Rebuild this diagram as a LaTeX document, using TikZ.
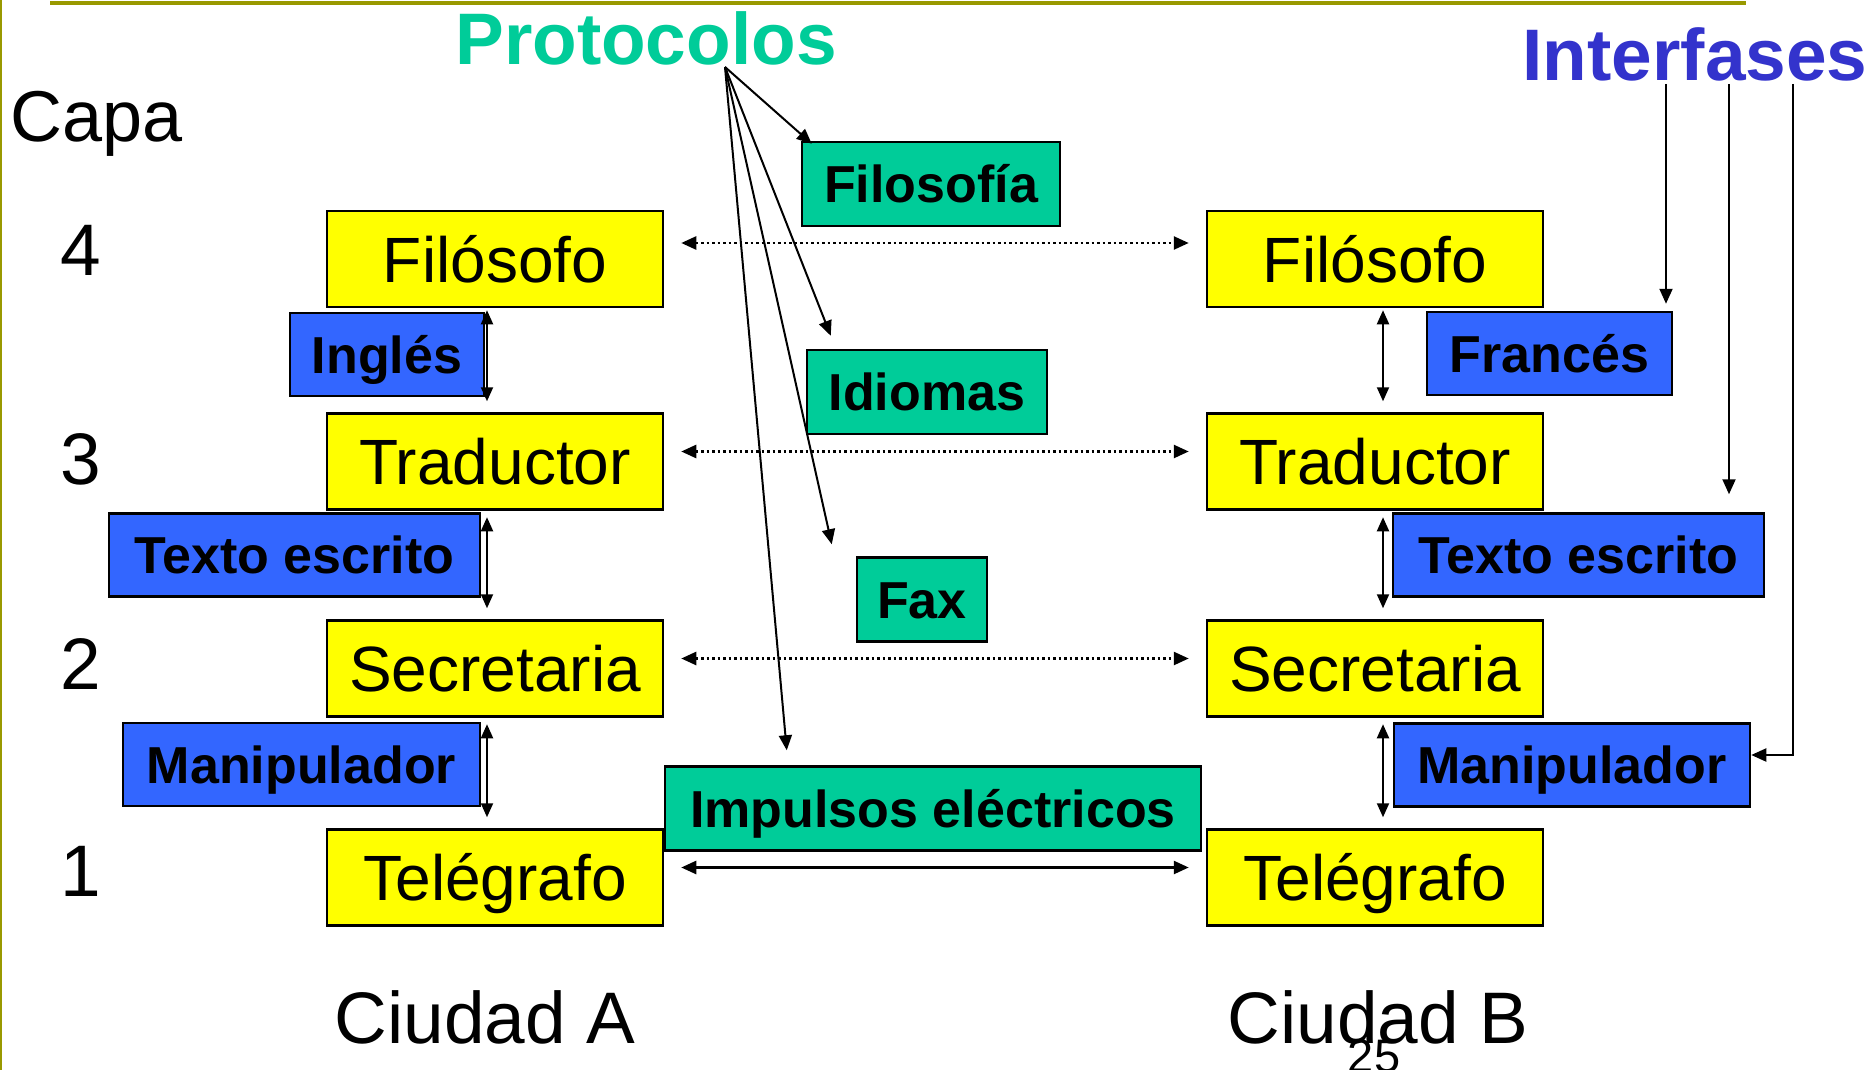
\documentclass[tikz,border=0pt]{standalone}
\usepackage{fontspec}
\setmainfont{Liberation Sans}
\usetikzlibrary{arrows.meta}
\definecolor{ygold}{HTML}{FFFF00}
\definecolor{pgreen}{HTML}{00CC99}
\definecolor{bfill}{HTML}{3366FF}
\definecolor{btext}{HTML}{3333CC}
\definecolor{olivel}{HTML}{999900}
\newcommand{\myfs}[1]{\fontsize{#1}{#1}\selectfont}
\begin{document}
\begin{tikzpicture}[x=1pt,y=-1pt,
  box/.style={draw=black, line width=2.5pt, inner sep=0pt, text depth=0pt},
  ybox/.style={box, fill=ygold, minimum width=336pt, minimum height=96pt, font=\myfs{64}, text height=46pt},
  gbox/.style={box, fill=pgreen, minimum height=84pt, font=\myfs{52}\bfseries, text height=37pt},
  bbox/.style={box, fill=bfill, minimum height=83pt, font=\myfs{52}\bfseries, text height=37pt},
  arr/.style={line width=2pt, -{Triangle[length=15pt,width=13pt]}},
  dbl/.style={line width=2pt, {Triangle[length=14pt,width=12pt]}-{Triangle[length=14pt,width=12pt]}},
  dotarr/.style={line width=2.5pt, dash pattern=on 2.5pt off 3pt, {Triangle[length=15pt,width=13pt]}-{Triangle[length=15pt,width=13pt]}},
  solarr/.style={line width=2.5pt, {Triangle[length=15pt,width=13pt]}-{Triangle[length=15pt,width=13pt]}},
  lbl/.style={inner sep=0pt, anchor=base}
]
\useasboundingbox (0,0) rectangle (1872,1070);
\fill[white] (0,0) rectangle (1872,1070);
% frame lines
\draw[olivel, line width=4.5pt] (50,3) -- (1746,3);
\draw[olivel, line width=2.5pt] (1,0) -- (1,1070);

% titles
\node[lbl, font=\myfs{73}\bfseries, text=pgreen] (prot) at (646,65) {Protocolos};
\node[lbl, font=\myfs{73}\bfseries, text=btext] (intf) at (1695,81) {Interfases};
\node[lbl, font=\myfs{72}, anchor=base west] (capa) at (10,142) {Capa};
\node[lbl, font=\myfs{73}] (n4) at (81,275) {4};
\node[lbl, font=\myfs{73}] (n3) at (81,484) {3};
\node[lbl, font=\myfs{73}] (n2) at (81,689) {2};
\node[lbl, font=\myfs{73}] (n1) at (81,896) {1};
\node[lbl, font=\myfs{73}] (ca) at (485,1043) {Ciudad A};
\node[lbl, font=\myfs{73}] (cb) at (1378,1043) {Ciudad B};
\node[lbl, font=\myfs{47}] (pg) at (1374,1072) {25};

% yellow boxes
\node[ybox] (fil1) at (495,259) {Filósofo};
\node[ybox] (tra1) at (495,461.5) {Traductor};
\node[ybox] (sec1) at (495,668.5) {Secretaria};
\node[ybox] (tel1) at (495,877.5) {Telégrafo};
\node[ybox] (fil2) at (1375,259) {Filósofo};
\node[ybox] (tra2) at (1375,461.5) {Traductor};
\node[ybox] (sec2) at (1375,668.5) {Secretaria};
\node[ybox] (tel2) at (1375,877.5) {Telégrafo};

% green boxes
\node[gbox, minimum width=258pt] (gfil) at (931,184) {Filosofía};
\node[gbox, minimum width=240pt] (gidi) at (927,392) {Idiomas};
\node[gbox, minimum width=130pt] (gfax) at (922,599.5) {Fax};
\node[gbox, minimum width=536pt] (gimp) at (933,808.5) {Impulsos eléctricos};

% blue boxes
\node[bbox, minimum width=194pt] (ing) at (387,354.5) {Inglés};
\node[bbox, minimum width=371pt] (txl) at (294.5,555) {Texto escrito};
\node[bbox, minimum width=357pt] (mal) at (301.5,764.5) {Manipulador};
\node[bbox, minimum width=245pt] (fra) at (1549.5,353.5) {Francés};
\node[bbox, minimum width=371pt] (txr) at (1578.5,555) {Texto escrito};
\node[bbox, minimum width=356pt] (mar) at (1572,765) {Manipulador};

% vertical double arrows
\draw[dbl] ([xshift=-8pt,yshift=-2pt]fil1.south) -- ([xshift=-8pt,yshift=11pt]tra1.north);
\draw[dbl] ([xshift=-8pt,yshift=-6.5pt]tra1.south) -- ([xshift=-8pt,yshift=11pt]sec1.north);
\draw[dbl] ([xshift=-8pt,yshift=-6.5pt]sec1.south) -- ([xshift=-8pt,yshift=11pt]tel1.north);
\draw[dbl] ([xshift=8pt,yshift=-2pt]fil2.south) -- ([xshift=8pt,yshift=11pt]tra2.north);
\draw[dbl] ([xshift=8pt,yshift=-6.5pt]tra2.south) -- ([xshift=8pt,yshift=11pt]sec2.north);
\draw[dbl] ([xshift=8pt,yshift=-6.5pt]sec2.south) -- ([xshift=8pt,yshift=11pt]tel2.north);

% horizontal peer arrows
\draw[dotarr, shorten <=17pt, shorten >=17pt] ([yshift=16pt]fil1.east) -- ([yshift=16pt]fil2.west);
\draw[dotarr, shorten <=17pt, shorten >=17pt] ([yshift=10pt]tra1.east) -- ([yshift=10pt]tra2.west);
\draw[dotarr, shorten <=17pt, shorten >=17pt] ([yshift=10pt]sec1.east) -- ([yshift=10pt]sec2.west);
\draw[solarr, shorten <=17pt, shorten >=17pt] ([yshift=10pt]tel1.east) -- ([yshift=10pt]tel2.west);

% protocol arrows
\coordinate (po) at (725,67);
\draw[arr] (po) -- ([xshift=11pt,yshift=-3pt]gfil.north west);
\draw[arr] (po) -- ([xshift=25pt,yshift=13pt]gidi.north west);
\draw[arr] (po) -- ([xshift=-24pt,yshift=12pt]gfax.north west);
\draw[arr] (po) -- ([xshift=123pt,yshift=15pt]gimp.north west);

% interface arrows
\coordinate (ia) at (1666,84);
\coordinate (ib) at (1729,84);
\coordinate (ic) at (1793,84);
\draw[arr] (ia) -- ([yshift=7pt]fra.north -| ia);
\draw[arr] (ib) -- ([yshift=18pt]txr.north -| ib);
\draw[arr] (ic) -- ([yshift=10pt]mar.east -| ic) -- ([yshift=10pt]mar.east);
\end{tikzpicture}
\end{document}
